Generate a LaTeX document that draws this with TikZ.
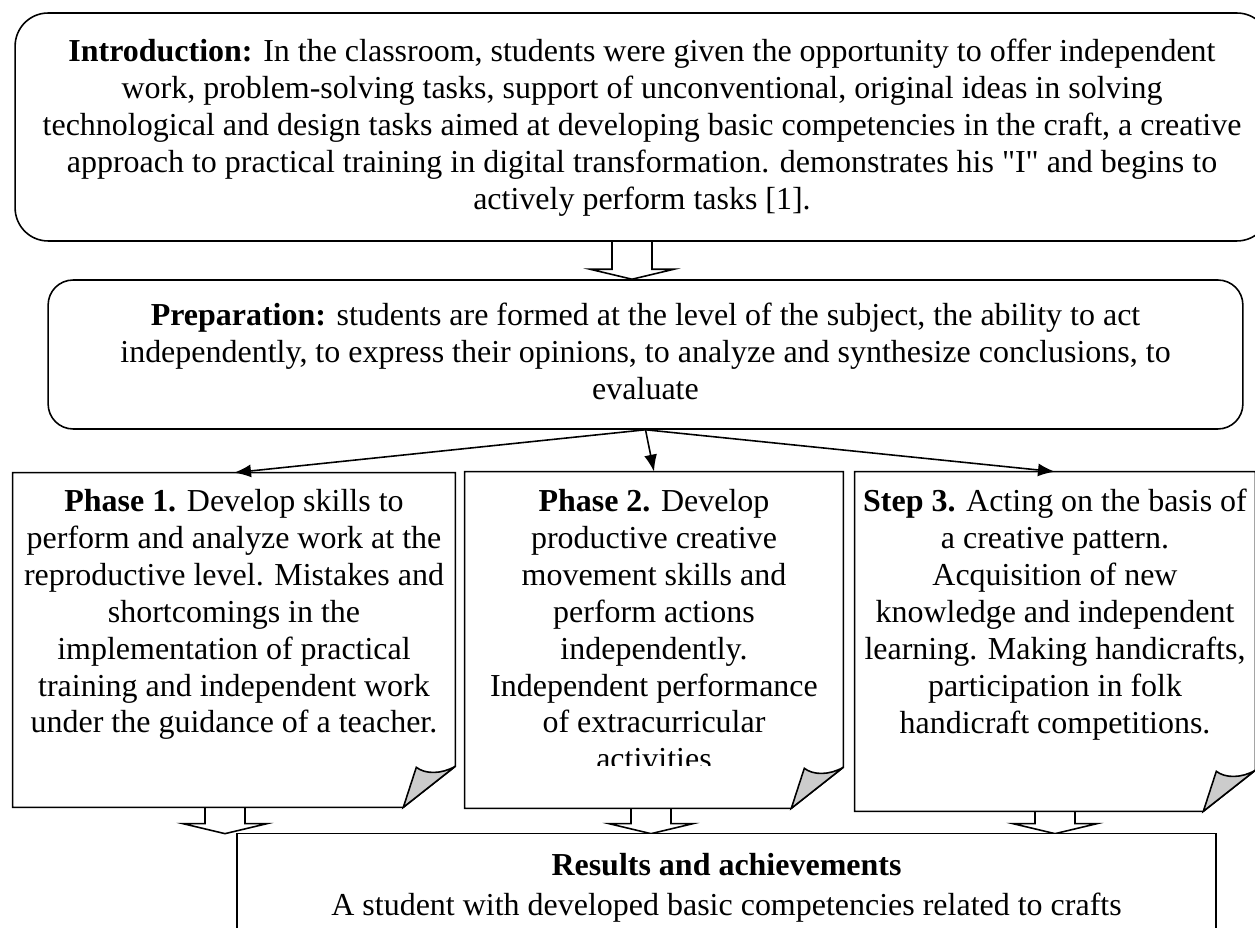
\documentclass[tikz,border=0pt]{standalone}
\usepackage{fontspec}
\setmainfont{Liberation Serif}
\usetikzlibrary{positioning,calc,arrows.meta}

\definecolor{foldgray}{RGB}{204,204,204}

\tikzset{
    roundbox/.style={draw, line width=0.9pt},
    plainbox/.style={inner sep=0pt},
    bodytext/.style={inner sep=0pt, align=center,
        font=\fontsize{18.2}{21}\selectfont},
    flow/.style={line width=0.9pt, -{Latex[length=0.34cm,width=0.26cm]}},
    hollow/.style={line width=0.9pt}
}

% hollow block arrow: x position, top anchor, bottom anchor
\newcommand{\hollowarrow}[3]{%
    \draw[hollow] ($(#1,0 |- #2)+(-20,0)$) -- ($(#1,0 |- #3)+(-20,-10)$)
        -- ($(#1,0 |- #3)+(-42,-10)$) -- (#1,0 |- #3)
        -- ($(#1,0 |- #3)+(42,-10)$) -- ($(#1,0 |- #3)+(20,-10)$)
        -- ($(#1,0 |- #2)+(20,0)$);
}

% sheet with a curled lower right corner
\newcommand{\foldsheet}[1]{%
    \draw[line width=0.9pt] (#1.north west) -- (#1.north east)
        -- ($(#1.south east)+(0,-41)$) -- ($(#1.south east)+(-52,0)$)
        -- (#1.south west) -- cycle;
    \filldraw[line width=0.9pt, fill=foldgray] ($(#1.south east)+(-52,0)$)
        -- ($(#1.south east)+(-39,-40)$)
        .. controls ($(#1.south east)+(-30,-33)$) and ($(#1.south east)+(-14,-33)$)
        .. ($(#1.south east)+(0,-41)$) -- cycle;
}

\begin{document}
\begin{tikzpicture}[x=0.02cm, y=-0.02cm]

\useasboundingbox (0,0) rectangle (1255,928);
\clip (0,0) rectangle (1255,928);

% Introduction
\node[roundbox, rounded corners=0.66cm, minimum width=25.1cm,
    minimum height=4.56cm] (intro) at (642.5,127) {};
\node[bodytext, anchor=north] (introtext) at (642,39) {%
    \textbf{Introduction:} In the classroom, students were given the opportunity to offer independent\\
    work, problem-solving tasks, support of unconventional, original ideas in solving\\
    technological and design tasks aimed at developing basic competencies in the craft, a creative\\
    approach to practical training in digital transformation. demonstrates his \textquotedbl I\textquotedbl{} and begins to\\
    actively perform tasks [1].};

% Preparation
\node[roundbox, rounded corners=0.5cm, minimum width=23.9cm,
    minimum height=2.98cm] (prep) at (645.5,354.5) {};
\node[bodytext, anchor=north] (preptext) at (645.5,303) {%
    \textbf{Preparation:} students are formed at the level of the subject, the ability to act\\
    independently, to express their opinions, to analyze and synthesize conclusions, to\\
    evaluate};

\hollowarrow{632}{intro.south}{prep.north}

% three phases
\node[plainbox, minimum width=8.84cm, minimum height=6.68cm] (p1) at (234,640) {};
\node[plainbox, minimum width=7.56cm, minimum height=6.72cm] (p2) at (654,640) {};
\node[plainbox, minimum width=8.0cm, minimum height=6.78cm] (p3) at (1055,641.5) {};
\foldsheet{p1}
\foldsheet{p2}
\foldsheet{p3}

\node[bodytext, anchor=north] (p1text) at (234,489) {%
    \textbf{Phase 1.} Develop skills to\\
    perform and analyze work at the\\
    reproductive level. Mistakes and\\
    shortcomings in the\\
    implementation of practical\\
    training and independent work\\
    under the guidance of a teacher.};

\begin{scope}
    \clip (465,472) rectangle (843,766);
    \node[bodytext, anchor=north] (p2text) at (654,489) {%
        \textbf{Phase 2.} Develop\\
        productive creative\\
        movement skills and\\
        perform actions\\
        independently.\\
        Independent performance\\
        of extracurricular\\
        activities};
\end{scope}

\node[bodytext, anchor=north] (p3text) at (1055,489) {%
    \textbf{Step 3.} Acting on the basis of\\
    a creative pattern.\\
    Acquisition of new\\
    knowledge and independent\\
    learning. Making handicrafts,\\
    participation in folk\\
    handicraft competitions.};

\draw[flow] (prep.south) -- (p1.north);
\draw[flow] (prep.south) -- (p2.north);
\draw[flow] (prep.south) -- (p3.north);

% Results
\node[plainbox, minimum width=19.58cm, minimum height=2.52cm] (res) at (726.5,897) {};
\hollowarrow{225}{p1.south}{res.north}
\hollowarrow{651}{p2.south}{res.north}
\hollowarrow{1055}{p3.south}{res.north}
\draw[roundbox, fill=white] (res.south west) rectangle (res.north east);
\node[bodytext, anchor=north, font=\fontsize{18.2}{22.8}\selectfont] (restext)
    at (726.5,853) {%
    \textbf{Results and achievements}\\
    A student with developed basic competencies related to crafts};

\end{tikzpicture}
\end{document}
